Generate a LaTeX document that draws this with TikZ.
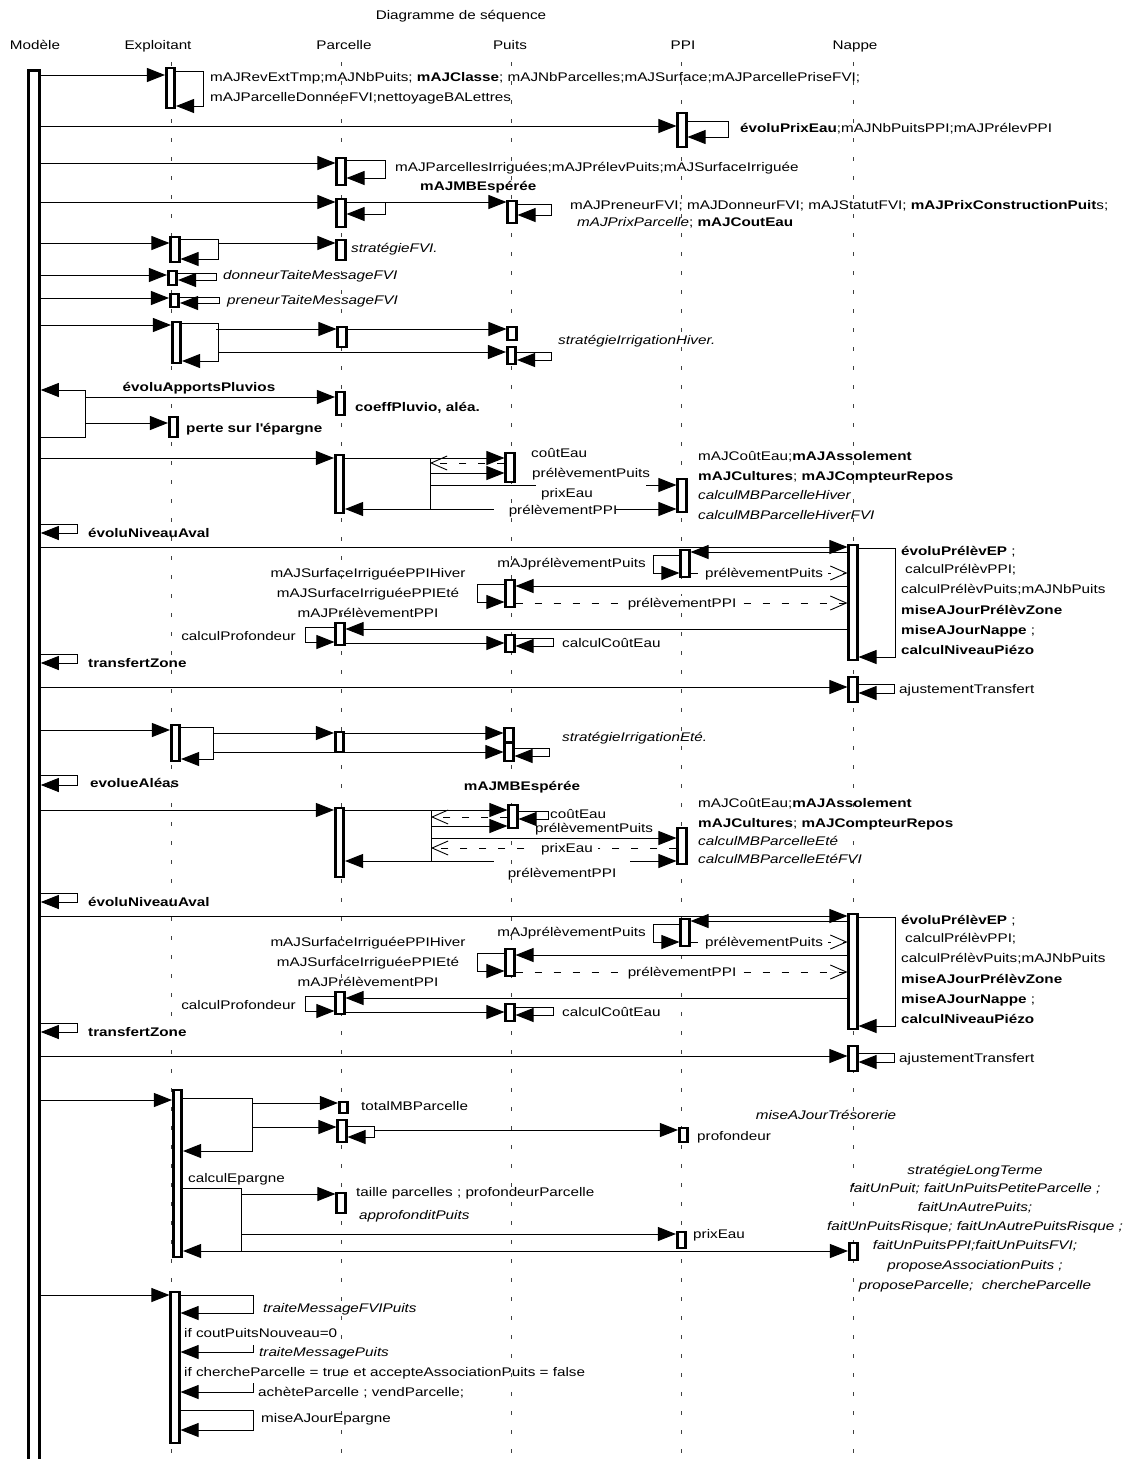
\documentclass[tikz,border=0pt]{standalone}
\usepackage{fontspec}
\setmainfont{Liberation Sans}[FakeStretch=1.22]
\usetikzlibrary{arrows.meta}

\tikzset{
  lifeline/.style={line width=0.6pt, black!75, dash pattern=on 4pt off 15pt},
  actbox/.style={draw, fill=white, line width=2.6pt, inner sep=0pt, minimum width=8.5pt},
  msg/.style={line width=0.9pt, -{Triangle[length=18pt,width=14pt]}},
  ret/.style={line width=0.9pt, dash pattern=on 7pt off 12pt, -{Straight Barb[length=16pt,width=14pt]}},
  wire/.style={line width=0.9pt},
  txt/.style={anchor=base west, inner sep=0pt},
  rtxt/.style={anchor=base east, inner sep=0pt},
  ctxt/.style={anchor=base, inner sep=0pt},
  lbl/.style={anchor=base, fill=white, inner ysep=1.5pt, inner xsep=5pt},
}
% activation bar: name, x, top, bottom
\newcommand{\act}[4]{\node[actbox, minimum height={(#4-#3)*1pt}] (#1) at (#2,{(#3+#4)/2}) {};}

\begin{document}
\begin{tikzpicture}[x=1pt,y=-1pt,font=\fontsize{12.5}{15}\selectfont]
  \useasboundingbox (0,0) rectangle (1136,1459);

  % heads
  \node[ctxt] (title) at (461,19) {Diagramme de séquence};
  \node[ctxt] (hMod) at (35,49) {Modèle};
  \node[ctxt] (hExp) at (158,49) {Exploitant};
  \node[ctxt] (hPar) at (344,49) {Parcelle};
  \node[ctxt] (hPui) at (510,49) {Puits};
  \node[ctxt] (hPPI) at (683,49) {PPI};
  \node[ctxt] (hNap) at (855,49) {Nappe};

  % lifelines
  \foreach \x in {171,341,511,681,853}
    \draw[lifeline] (\x,62) -- (\x,1459);
  \node[draw, fill=white, line width=2.8pt, inner sep=0pt, minimum width=11pt,
        minimum height=1393pt, anchor=north west] (modele) at (27,69) {};

  % mise a jour
  \act{e1}{170.5}{68}{108}
  \draw[msg] (modele.east |- 0,75) -- (e1.west |- 0,75);
  \draw[msg] (e1.east |- 0,71) -- (203,71) -- (203,106) -- (e1.east |- 0,106);
  \node[txt] (l1a) at (210,81) {mAJRevExtTmp;mAJNbPuits; \textbf{mAJClasse}; mAJNbParcelles;mAJSurface;mAJParcellePriseFVI;};
  \node[txt] (l1b) at (210,101) {mAJParcelleDonnéeFVI;nettoyageBALettres};

  \act{i1}{682}{113}{147}
  \draw[msg] (modele.east |- 0,126) -- (i1.west |- 0,126);
  \draw[msg] (i1.east |- 0,121) -- (728,121) -- (728,137) -- (i1.east |- 0,137);
  \node[txt] (l2) at (740,132) {\textbf{évoluPrixEau};mAJNbPuitsPPI;mAJPrélevPPI};

  \act{p1}{341}{158}{185}
  \draw[msg] (modele.east |- 0,163) -- (p1.west |- 0,163);
  \draw[msg] (p1.east |- 0,160) -- (385,160) -- (385,178) -- (p1.east |- 0,178);
  \node[txt] (l3) at (395,171) {mAJParcellesIrriguées;mAJPrélevPuits;mAJSurfaceIrriguée};

  \act{p2}{341}{199}{227}
  \act{u1}{512}{201}{223}
  \draw[msg] (modele.east |- 0,202) -- (p2.west |- 0,202);
  \draw[msg] (p2.east |- 0,202) -- (385,202) -- (385,214) -- (p2.east |- 0,214);
  \draw[msg] (385,202) -- (u1.west |- 0,202);
  \draw[msg] (u1.east |- 0,204) -- (551,204) -- (551,215) -- (u1.east |- 0,215);
  \node[txt] (l4a) at (420,190) {\textbf{mAJMBEspérée}};
  \node[txt] (l4b) at (570,209) {mAJPreneurFVI; mAJDonneurFVI; mAJStatutFVI; \textbf{mAJPrixConstructionPuit}s;};
  \node[txt] (l4c) at (577,226) {\textit{mAJPrixParcelle}; \textbf{mAJCoutEau}};

  % FVI
  \act{e2}{175}{237}{262}
  \act{p3}{341}{240}{260}
  \draw[msg] (modele.east |- 0,243) -- (e2.west |- 0,243);
  \draw[msg] (e2.east |- 0,239) -- (218,239) -- (218,259) -- (e2.east |- 0,259);
  \draw[msg] (218,243) -- (p3.west |- 0,243);
  \node[txt] (l5) at (351,252) {\textit{stratégieFVI.}};

  \act{e3}{172.5}{271}{285}
  \draw[msg] (modele.east |- 0,275) -- (e3.west |- 0,275);
  \draw[msg] (e3.east |- 0,273) -- (216,273) -- (216,280) -- (e3.east |- 0,280);
  \node[txt] (l6) at (223,279) {\textit{donneurTaiteMessageFVI}};

  \act{e4}{174.5}{294}{307}
  \draw[msg] (modele.east |- 0,298) -- (e4.west |- 0,298);
  \draw[msg] (e4.east |- 0,297) -- (219,297) -- (219,303) -- (e4.east |- 0,303);
  \node[txt] (l7) at (227,304) {\textit{preneurTaiteMessageFVI}};

  % irrigation hiver
  \act{e5}{176.5}{322}{363}
  \act{p4}{342}{327}{347}
  \act{u2}{512}{327}{340}
  \act{u3}{511.5}{347}{364}
  \draw[msg] (modele.east |- 0,325) -- (e5.west |- 0,325);
  \draw[msg] (e5.east |- 0,323) -- (218,323) -- (218,361) -- (e5.east |- 0,361);
  \draw[msg] (216,329) -- (p4.west |- 0,329);
  \draw[msg] (p4.east |- 0,329) -- (u2.west |- 0,329);
  \draw[msg] (218,352) -- (u3.west |- 0,352);
  \draw[msg] (u3.east |- 0,352) -- (551,352) -- (551,360) -- (u3.east |- 0,360);
  \node[txt] (l8) at (558,344) {\textit{stratégieIrrigationHiver.}};

  % pluvio
  \act{p5}{340.5}{392}{415}
  \act{e6}{173.5}{417}{437}
  \draw[wire] (modele.east |- 0,437) -- (85,437) -- (85,390);
  \draw[msg] (85,390) -- (modele.east |- 0,390);
  \draw[msg] (85,397) -- (p5.west |- 0,397);
  \draw[msg] (85,423) -- (e6.west |- 0,423);
  \node[ctxt] (l9a) at (199,391) {\textbf{évoluApportsPluvios}};
  \node[txt] (l9b) at (355,411) {\textbf{coeffPluvio, aléa.}};
  \node[txt] (l9c) at (186,432) {\textbf{perte sur l\textquotesingle épargne}};

  % MB hiver
  \act{p6}{339.5}{455}{513}
  \act{u4}{510}{453}{482}
  \act{i2}{682}{479}{512}
  \draw[msg] (modele.east |- 0,458) -- (p6.west |- 0,458);
  \draw[msg] (p6.east |- 0,458) -- (u4.west |- 0,458);
  \draw[wire] (430,458) -- (430,509);
  \draw[ret] (u4.west |- 0,463) -- (430,463);
  \draw[msg] (430,473) -- (u4.west |- 0,473);
  \draw[wire] (430,485) -- (536,485);
  \draw[msg] (646,485) -- (i2.west |- 0,485);
  \draw[msg] (430,509) -- (p6.east |- 0,509);
  \draw[wire] (430,509) -- (494,509);
  \draw[msg] (616,509) -- (i2.west |- 0,509);
  \node[txt] (l10a) at (531,457) {coûtEau};
  \node[txt] (l10b) at (532,477) {prélèvementPuits};
  \node[ctxt] (l10c) at (567,497) {prixEau};
  \node[ctxt] (l10d) at (563,514) {prélèvementPPI};
  \node[txt] (l10e) at (698,460) {mAJCoûtEau;\textbf{mAJAssolement}};
  \node[txt] (l10f) at (698,480) {\textbf{mAJCultures}; \textbf{mAJCompteurRepos}};
  \node[txt] (l10g) at (698,499) {\textit{calculMBParcelleHiver}};
  \node[txt] (l10h) at (698,519) {\textit{calculMBParcelleHiverFVI}};

  % niveau aval, twice
  \foreach \dy/\pre in {0/a,369/b}{
  \begin{scope}[shift={(0,\dy)}]
    \act{\pre n1}{853}{545}{660}
    \act{\pre i3}{685}{550}{577}
    \act{\pre u5}{510}{580}{607}
    \act{\pre p7}{340}{623}{645}
    \act{\pre u6}{510}{635}{652}
    \act{\pre n2}{853}{677}{702}
    \draw[msg] (modele.east |- 0,524) -- (77,524) -- (77,533) -- (modele.east |- 0,533);
    \node[txt] (\pre lA) at (88,537) {\textbf{évoluNiveauAval}};
    \draw[msg] (modele.east |- 0,547) -- (\pre n1.west |- 0,547);
    \draw[msg] (\pre n1.east |- 0,548) -- (895,548) -- (895,657) -- (\pre n1.east |- 0,657);
    \draw[msg] (\pre n1.west |- 0,552) -- (\pre i3.east |- 0,552);
    \draw[msg] (\pre i3.west |- 0,555) -- (653,555) -- (653,573) -- (\pre i3.west |- 0,573);
    \node[rtxt] (\pre lB) at (646,567) {mAJprélèvementPuits};
    \draw[ret] (\pre i3.east |- 0,573) -- (\pre n1.west |- 0,573);
    \node[lbl] (\pre lC) at (764,577) {prélèvementPuits};
    \draw[msg] (\pre n1.west |- 0,586) -- (\pre u5.east |- 0,586);
    \draw[msg] (\pre u5.west |- 0,584) -- (477,584) -- (477,602) -- (\pre u5.west |- 0,602);
    \node[ctxt] (\pre lD) at (368,577) {mAJSurfaceIrriguéePPIHiver};
    \node[ctxt] (\pre lE) at (368,597) {mAJSurfaceIrriguéePPIEté};
    \node[ctxt] (\pre lF) at (368,617) {mAJPrélèvementPPI};
    \draw[ret] (\pre u5.east |- 0,603) -- (\pre n1.west |- 0,603);
    \node[lbl] (\pre lG) at (682,607) {prélèvementPPI};
    \draw[msg] (\pre n1.west |- 0,629) -- (\pre p7.east |- 0,629);
    \draw[msg] (\pre p7.west |- 0,627) -- (305,627) -- (305,642) -- (\pre p7.west |- 0,642);
    \node[rtxt] (\pre lH) at (296,640) {calculProfondeur};
    \draw[msg] (\pre p7.east |- 0,643) -- (\pre u6.west |- 0,643);
    \draw[msg] (\pre u6.east |- 0,638) -- (553,638) -- (553,646) -- (\pre u6.east |- 0,646);
    \node[txt] (\pre lI) at (562,647) {calculCoûtEau};
    \node[txt] (\pre lJ) at (901,555) {\textbf{évoluPrélèvEP} ;};
    \node[txt] (\pre lK) at (905,573) {calculPrélèvPPI;};
    \node[txt] (\pre lL) at (901,593) {calculPrélèvPuits;mAJNbPuits};
    \node[txt] (\pre lM) at (901,614) {\textbf{miseAJourPrélèvZone}};
    \node[txt] (\pre lN) at (901,634) {\textbf{miseAJourNappe} ;};
    \node[txt] (\pre lO) at (901,654) {\textbf{calculNiveauPiézo}};
    \draw[msg] (modele.east |- 0,654) -- (77,654) -- (77,663) -- (modele.east |- 0,663);
    \node[txt] (\pre lP) at (88,667) {\textbf{transfertZone}};
    \draw[msg] (modele.east |- 0,687) -- (\pre n2.west |- 0,687);
    \draw[msg] (\pre n2.east |- 0,684) -- (894,684) -- (894,693) -- (\pre n2.east |- 0,693);
    \node[txt] (\pre lQ) at (899,693) {ajustementTransfert};
  \end{scope}}

  % irrigation ete
  \act{e7}{175.5}{725}{761}
  \act{p8}{339.5}{732}{752}
  \act{u7}{509}{728}{742}
  \act{u8}{509}{743}{761}
  \draw[msg] (modele.east |- 0,730) -- (e7.west |- 0,730);
  \draw[msg] (e7.east |- 0,727) -- (213,727) -- (213,759) -- (e7.east |- 0,759);
  \draw[msg] (213,733) -- (p8.west |- 0,733);
  \draw[msg] (p8.east |- 0,733) -- (u7.west |- 0,733);
  \draw[msg] (213,752) -- (u8.west |- 0,752);
  \draw[msg] (u8.east |- 0,748) -- (549,748) -- (549,756) -- (u8.east |- 0,756);
  \node[txt] (l12) at (562,741) {\textit{stratégieIrrigationEté.}};

  \draw[msg] (modele.east |- 0,775) -- (77,775) -- (77,785) -- (modele.east |- 0,785);
  \node[txt] (l13) at (90,787) {\textbf{evolueAléas}};

  % MB ete
  \act{p9}{339.5}{808}{877}
  \act{u9}{513}{805}{828}
  \act{i4}{682}{828}{864}
  \draw[msg] (modele.east |- 0,810) -- (p9.west |- 0,810);
  \draw[msg] (p9.east |- 0,810) -- (u9.west |- 0,810);
  \draw[wire] (431,810) -- (431,861);
  \draw[ret] (u9.west |- 0,817) -- (431,817);
  \draw[msg] (431,826) -- (u9.west |- 0,826);
  \draw[msg] (u9.east |- 0,811) -- (548,811) -- (548,819) -- (u9.east |- 0,819);
  \draw[msg] (431,838) -- (i4.west |- 0,838);
  \draw[ret] (i4.west |- 0,848) -- (431,848);
  \node[lbl] (l14c) at (567,852) {prixEau};
  \draw[msg] (431,861) -- (p9.east |- 0,861);
  \draw[wire] (431,861) -- (494,861);
  \draw[msg] (630,861) -- (i4.west |- 0,861);
  \node[ctxt] (l14a) at (522,790) {\textbf{mAJMBEspérée}};
  \node[txt] (l14b) at (550,818) {coûtEau};
  \node[txt] (l14d) at (535,832) {prélèvementPuits};
  \node[ctxt] (l14e) at (562,877) {prélèvementPPI};
  \node[txt] (l14f) at (698,807) {mAJCoûtEau;\textbf{mAJAssolement}};
  \node[txt] (l14g) at (698,827) {\textbf{mAJCultures}; \textbf{mAJCompteurRepos}};
  \node[txt] (l14h) at (698,845) {\textit{calculMBParcelleEté}};
  \node[txt] (l14i) at (698,863) {\textit{calculMBParcelleEtéFVI}};

  % tresorerie, epargne
  \act{e8}{177.5}{1090}{1257}
  \act{p10}{343.5}{1102}{1113}
  \act{p11}{342}{1120}{1142}
  \act{i5}{683.5}{1128}{1142}
  \act{p12}{341}{1193}{1213}
  \act{i6}{681.5}{1232}{1248}
  \act{n3}{853.5}{1243}{1260}
  \draw[msg] (modele.east |- 0,1100) -- (e8.west |- 0,1100);
  \draw[msg] (e8.east |- 0,1098) -- (252,1098) -- (252,1151) -- (e8.east |- 0,1151);
  \draw[msg] (252,1103) -- (p10.west |- 0,1103);
  \draw[msg] (252,1127) -- (p11.west |- 0,1127);
  \draw[msg] (p11.east |- 0,1126) -- (374,1126) -- (374,1137) -- (p11.east |- 0,1137);
  \draw[msg] (374,1130) -- (i5.west |- 0,1130);
  \draw[wire] (e8.east |- 0,1188) -- (241,1188) -- (241,1251);
  \draw[msg] (241,1251) -- (e8.east |- 0,1251);
  \draw[msg] (241,1251) -- (n3.west |- 0,1251);
  \draw[msg] (241,1194) -- (p12.west |- 0,1194);
  \draw[msg] (241,1234) -- (i6.west |- 0,1234);
  \node[txt] (l15a) at (361,1110) {totalMBParcelle};
  \node[txt] (l15b) at (697,1140) {profondeur};
  \node[ctxt] (l15c) at (826,1119) {\textit{miseAJourTrésorerie}};
  \node[txt] (l15d) at (188,1182) {calculEpargne};
  \node[txt] (l15e) at (356,1196) {taille parcelles ; profondeurParcelle};
  \node[txt] (l15f) at (359,1219) {\textit{approfonditPuits}};
  \node[txt] (l15g) at (693,1238) {prixEau};
  \node[ctxt] (l15h) at (975,1174) {\textit{stratégieLongTerme}};
  \node[ctxt] (l15i) at (975,1192) {\textit{faitUnPuit; faitUnPuitsPetiteParcelle ;}};
  \node[ctxt] (l15j) at (975,1211) {\textit{faitUnAutrePuits;}};
  \node[ctxt] (l15k) at (975,1230) {\textit{faitUnPuitsRisque; faitUnAutrePuitsRisque ;}};
  \node[ctxt] (l15l) at (975,1249) {\textit{faitUnPuitsPPI;faitUnPuitsFVI;}};
  \node[ctxt] (l15m) at (975,1269) {\textit{proposeAssociationPuits ;}};
  \node[ctxt] (l15n) at (975,1289) {\textit{proposeParcelle;\ \ chercheParcelle}};

  % messages
  \act{e9}{175}{1292}{1443}
  \draw[msg] (modele.east |- 0,1295) -- (e9.west |- 0,1295);
  \draw[msg] (e9.east |- 0,1295) -- (253,1295) -- (253,1313) -- (e9.east |- 0,1313);
  \draw[msg] (253,1345) -- (253,1352) -- (e9.east |- 0,1352);
  \draw[msg] (253,1383) -- (253,1392) -- (e9.east |- 0,1392);
  \draw[msg] (e9.east |- 0,1410) -- (253,1410) -- (253,1430) -- (e9.east |- 0,1430);
  \node[txt] (l16a) at (263,1312) {\textit{traiteMessageFVIPuits}};
  \node[txt] (l16b) at (184,1337) {if coutPuitsNouveau=0};
  \node[txt] (l16c) at (259,1356) {\textit{traiteMessagePuits}};
  \node[txt] (l16d) at (184,1376) {if chercheParcelle = true et accepteAssociationPuits = false};
  \node[txt] (l16e) at (258,1396) {achèteParcelle ; vendParcelle;};
  \node[txt] (l16f) at (261,1422) {miseAJourEpargne};
\end{tikzpicture}
\end{document}
